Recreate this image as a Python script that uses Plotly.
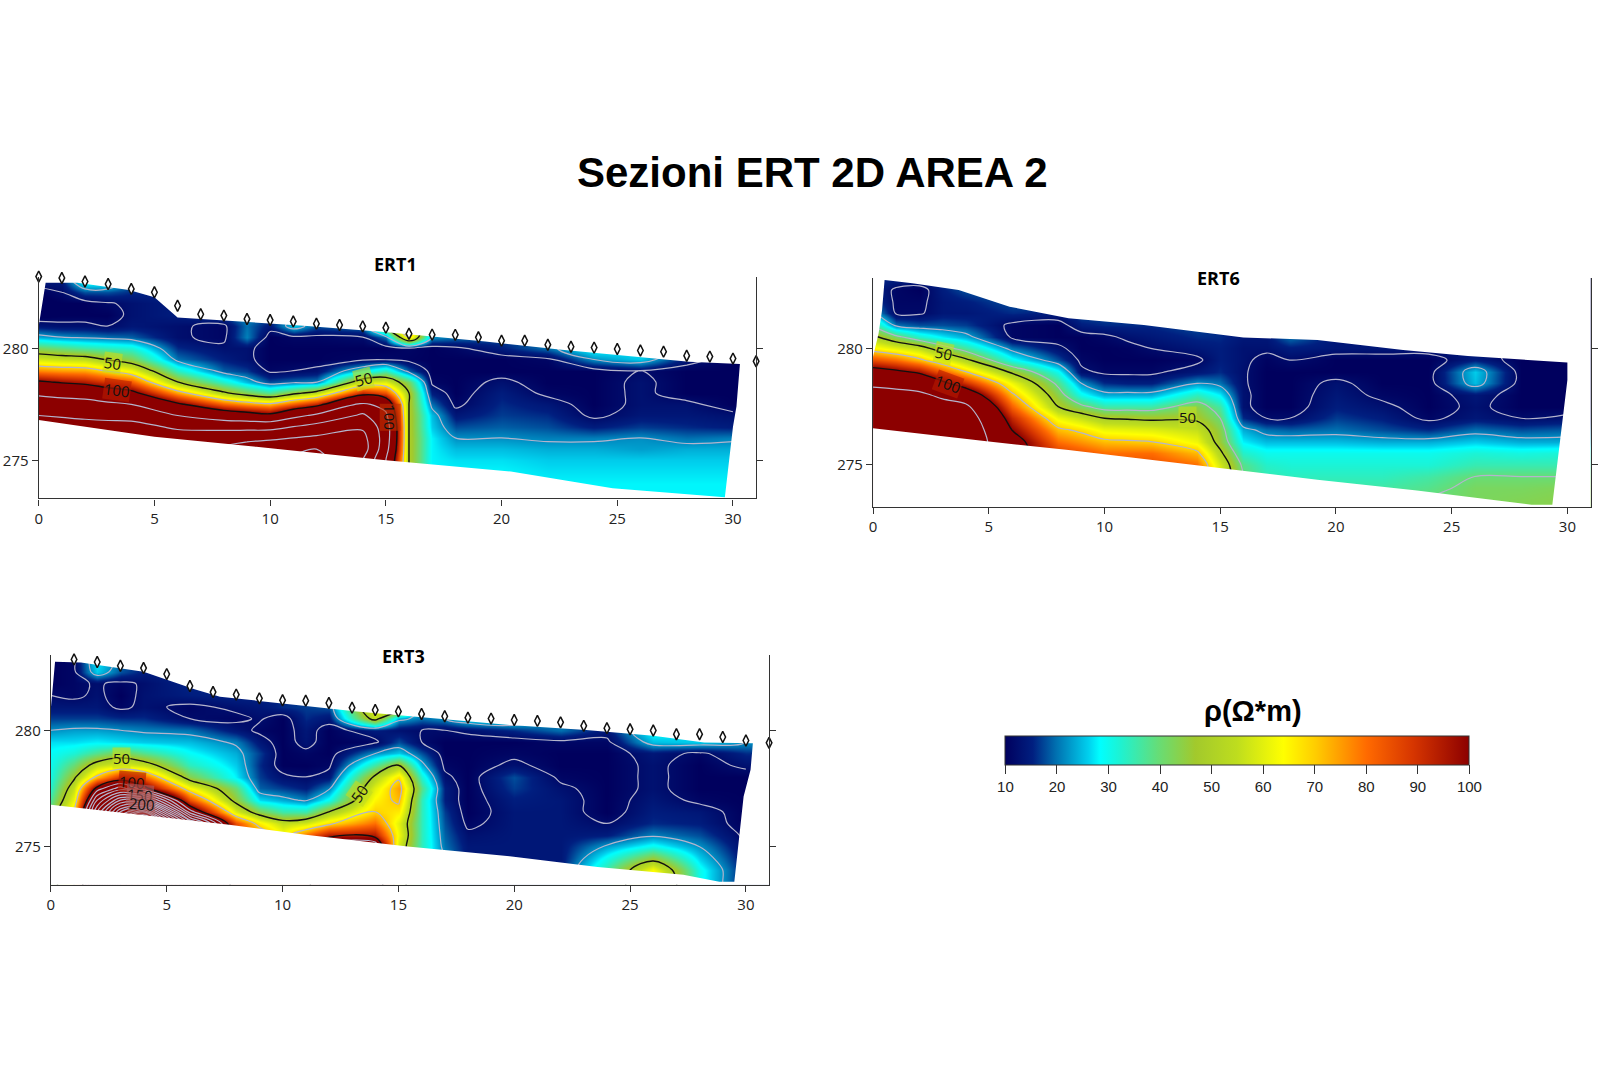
import numpy as np
import plotly.graph_objects as go

# ---------- data ----------
x_nodes = [0, 1, 2, 3, 4, 6, 8, 9, 10, 11, 12, 14, 15, 16, 17, 18, 20, 22, 24, 26, 28, 30]
y_nodes = [282.95, 282.5, 282, 281.5, 281, 280.5, 280, 279.5, 279, 278.5, 278, 277.5, 277,
           276.5, 276, 275.5, 275, 274.5, 274, 273.5, 273]

# one list per x node, resistivity from the top row down to y=273
ert1_cols = [
    [14, 10, 9, 9, 14, 24, 42, 58, 78, 102, 125, 145, 160, 170, 170, 165, 160, 160, 160, 160, 160],
    [14, 12, 10, 10, 13, 22, 39, 56, 76, 98, 121, 142, 158, 170, 172, 170, 165, 165, 165, 165, 165],
    [30, 18, 10, 10, 13, 21, 36, 55, 75, 95, 118, 140, 155, 170, 175, 175, 170, 170, 170, 170, 170],
    [30, 18, 11.5, 10, 12, 20, 34, 49, 69, 89, 110, 135, 152, 170, 178, 180, 178, 178, 178, 178, 178],
    [18, 16, 13, 13, 14, 19, 32, 43, 63, 83, 105, 130, 150, 170, 180, 185, 185, 185, 185, 185, 185],
    [16, 16, 15, 15, 12.5, 12.5, 16, 20, 34, 50, 75, 103, 130, 155, 175, 190, 195, 195, 195, 195, 195],
    [18, 18, 18, 18, 11, 11, 13, 15, 19, 33, 52, 82, 115, 150, 180, 195, 200, 200, 200, 200, 200],
    [22, 22, 22, 22, 20, 21, 13, 13, 17, 25, 44, 76, 110, 150, 182, 205, 210, 210, 210, 210, 210],
    [20, 20, 20, 18, 14, 10, 10, 10, 11, 18, 38, 72, 105, 150, 185, 210, 220, 220, 220, 220, 220],
    [20, 20, 20, 20, 26, 11, 10, 10, 12, 20, 47, 83, 122, 160, 190, 215, 225, 225, 225, 225, 225],
    [20, 20, 20, 20, 18, 11, 10, 10, 13, 21, 55, 93, 135, 170, 195, 220, 230, 230, 230, 230, 230],
    [20, 20, 20, 20, 20, 12, 10, 11, 28, 58, 93, 135, 165, 185, 200, 205, 190, 190, 190, 190, 190],
    [50, 50, 50, 50, 50, 20, 10, 11.5, 35, 60, 85, 120, 135, 145, 145, 140, 130, 130, 130, 130, 130],
    [90, 90, 90, 90, 90, 70, 11, 10.5, 19, 42, 50, 50, 50, 50, 50, 50, 50, 50, 50, 50, 50],
    [15, 15, 15, 15, 15, 22, 10, 10, 10, 11, 15, 20, 25, 26, 28, 28, 28, 28, 28, 28, 28],
    [18, 18, 18, 18, 18, 20, 11, 10, 10, 10, 10, 11, 14, 18, 22, 25, 27, 28, 28, 28, 28],
    [18, 18, 18, 18, 18, 18, 15, 10, 10, 13, 15, 16, 17, 19, 22, 25, 27, 28, 28, 28, 28],
    [20, 20, 20, 20, 20, 20, 20, 11, 10, 10, 11, 14, 16, 18, 21, 24, 26, 27, 28, 28, 28],
    [30, 30, 30, 30, 30, 30, 30, 22, 10, 10, 10, 10, 11, 15, 21, 24, 26, 27, 28, 28, 28],
    [28, 28, 28, 28, 28, 28, 28, 26, 12, 13, 13, 13, 14, 17, 22, 23, 26, 27, 28, 28, 28],
    [20, 20, 20, 20, 20, 20, 20, 14, 10, 10, 10, 13, 14, 16, 20, 24, 26, 27, 28, 28, 28],
    [18, 18, 18, 18, 18, 18, 18, 10, 10, 10, 10, 10, 13, 15, 21, 24, 26, 27, 28, 28, 28],
]
ert6_cols = [
    [16, 16, 18, 24, 38, 52, 65, 85, 108, 125, 140, 150, 155, 155, 155, 155, 155, 155, 155, 155, 155],
    [15, 11, 11, 11.5, 20, 42, 60, 80, 103, 122, 138, 148, 153, 153, 153, 153, 153, 153, 153, 153, 153],
    [15, 10, 11, 11.5, 18, 33, 55, 72, 97, 118, 135, 145, 150, 150, 150, 150, 150, 150, 150, 150, 150],
    [18, 15, 14, 14, 18, 28, 44, 62, 83, 104, 125, 140, 148, 150, 150, 150, 150, 150, 150, 150, 150],
    [20, 18, 15, 14, 17, 24, 36, 52, 70, 90, 115, 135, 145, 150, 150, 150, 150, 150, 150, 150, 150],
    [20, 20, 18, 16, 11, 11, 20, 30, 48, 62, 72, 82, 92, 100, 108, 108, 108, 108, 108, 108, 108],
    [20, 20, 20, 15, 10, 10, 13, 18, 30, 38, 44, 50, 62, 72, 80, 88, 90, 90, 90, 90, 90],
    [20, 20, 20, 18, 15, 10, 10, 11, 13, 22, 30, 42, 56, 68, 76, 84, 88, 88, 88, 88, 88],
    [18, 18, 18, 18, 16, 11, 10, 10, 11, 16, 24, 36, 50, 62, 72, 80, 85, 85, 85, 85, 85],
    [18, 18, 18, 18, 16, 13, 10.5, 10, 11, 15, 24, 36, 49, 61, 71, 80, 85, 85, 85, 85, 85],
    [16, 16, 16, 16, 16, 14, 12, 10, 11, 15, 24, 36, 48, 60, 70, 80, 85, 85, 85, 85, 85],
    [18, 18, 18, 18, 18, 16, 14, 11, 14, 22, 34, 44, 48, 56, 62, 72, 80, 80, 80, 80, 80],
    [16, 16, 16, 16, 16, 16, 15, 15, 16, 20, 28, 36, 40, 44, 46, 52, 58, 60, 60, 60, 60],
    [14, 14, 14, 14, 14, 14, 13, 13, 12.5, 12.5, 13, 13, 16, 24, 28, 33, 38, 40, 40, 40, 40],
    [14, 14, 14, 14, 14, 14, 13, 10.5, 10, 10, 10, 10, 12, 20, 25, 30, 33, 35, 36, 36, 36],
    [20, 20, 20, 20, 20, 20, 15, 12, 10, 10, 10, 10, 12, 19, 25, 30, 32, 34, 36, 36, 36],
    [14, 14, 14, 14, 14, 14, 14, 10, 10, 13, 14, 15, 17, 20, 25, 30, 32, 34, 36, 36, 36],
    [14, 14, 14, 14, 14, 14, 14, 10, 10, 10, 11, 13, 15, 18, 24, 30, 32, 34, 36, 38, 38],
    [14, 14, 14, 14, 14, 14, 14, 10, 10, 10, 10, 10, 11, 16, 24, 30, 32, 36, 38, 40, 40],
    [14, 14, 14, 14, 14, 14, 14, 15, 26, 25, 14, 13, 14, 20, 26, 32, 35, 40, 42, 42, 42],
    [10, 10, 10, 10, 10, 10, 10, 10, 10, 10, 10, 10, 12, 18, 24, 31, 35, 40, 42, 43, 43],
    [10, 10, 10, 10, 10, 10, 10, 10, 10, 10, 10, 10, 13, 19, 24, 32, 35, 40, 43, 44, 44],
]
ert3_cols = [
    [10, 10, 10, 12, 14, 17, 22, 27, 29, 30, 31, 33, 37, 42, 42, 42, 42, 42, 42, 42, 42],
    [11, 11, 11, 11, 14, 17, 23, 27, 32, 40, 48, 56, 62, 70, 70, 70, 70, 70, 70, 70, 70],
    [28, 26, 12.5, 13, 14, 17, 23, 28, 38, 55, 72, 105, 130, 150, 150, 150, 150, 150, 150, 150, 150],
    [20, 18, 11, 10, 11, 16, 22, 27, 44, 60, 90, 125, 170, 210, 240, 240, 240, 240, 240, 240, 240],
    [16, 15, 12.5, 13, 13, 16, 21, 26, 38, 56, 82, 105, 165, 240, 280, 280, 280, 280, 280, 280, 280],
    [16, 16, 16, 15, 11, 12, 20, 25, 29, 34, 44, 64, 85, 115, 165, 165, 165, 165, 165, 165, 165],
    [16, 16, 16, 16, 13, 11, 14, 21, 24, 26, 28, 40, 46, 60, 85, 90, 90, 90, 90, 90, 90],
    [16, 16, 16, 16, 14, 12.5, 11, 14, 17, 16, 17, 19, 27, 44, 66, 78, 80, 80, 80, 80, 80],
    [16, 16, 16, 16, 16, 10, 10, 10, 10, 10, 13, 17, 24, 36, 55, 65, 70, 70, 70, 70, 70],
    [17, 17, 17, 17, 17, 16, 14, 13.5, 11, 10, 12, 15, 21, 36, 58, 80, 95, 95, 95, 95, 95],
    [18, 18, 18, 18, 18, 14, 10, 10, 10, 11, 14, 21, 30, 50, 68, 95, 120, 120, 120, 120, 120],
    [65, 65, 65, 65, 65, 55, 15, 11, 22, 36, 52, 60, 65, 70, 80, 95, 120, 120, 120, 120, 120],
    [65, 65, 65, 65, 65, 24, 13, 18, 26, 50, 68, 75, 72, 66, 60, 62, 58, 58, 58, 58, 58],
    [20, 20, 20, 20, 20, 20, 12, 12, 18, 24, 32, 38, 34, 34, 34, 34, 34, 34, 34, 34, 34],
    [22, 22, 22, 22, 22, 22, 12, 10, 10, 11, 13, 15, 15, 17, 18, 19, 20, 22, 22, 22, 22],
    [28, 28, 28, 28, 28, 28, 13, 10, 10, 10, 10, 10, 10, 10, 11, 13, 14, 14, 14, 14, 14],
    [30, 30, 30, 30, 30, 30, 16, 10, 11, 13, 18, 17, 15, 14, 14, 14, 14, 14, 14, 14, 14],
    [20, 20, 20, 20, 20, 20, 20, 11, 10, 10, 11, 13, 14, 14, 14, 14, 14, 14, 15, 15, 15],
    [14, 14, 14, 14, 14, 14, 14, 11, 10, 10, 10, 10, 10, 10, 12, 15, 23, 30, 36, 36, 36],
    [30, 30, 30, 30, 30, 30, 30, 25, 14, 13, 13, 13, 14, 15, 16, 21, 30, 46, 64, 70, 70],
    [28, 28, 28, 28, 28, 28, 28, 26, 11, 10, 10, 10, 11, 14, 15, 18, 22, 26, 30, 30, 30],
    [22, 22, 22, 22, 22, 22, 22, 22, 16, 13, 10, 10, 10, 10, 10, 11, 12, 13, 14, 14, 14],
]

# section outlines: top edge, right edge, bottom edge
ert1_top_x = [0.0, 0.3, 1.67, 3.9, 5.0, 6.0, 6.85, 8.3, 9.8, 11.6, 14.8, 17.1, 19.3, 22.6, 24.8, 28.1, 30.3]
ert1_top_y = [281.0, 282.93, 282.93, 282.6, 282.28, 281.38, 281.34, 281.22, 281.12, 281.0, 280.74, 280.52, 280.3, 279.93, 279.7, 279.4, 279.3]
ert1_right_x = [30.15, 30.0, 29.9, 29.65]
ert1_right_y = [277.4, 276.5, 275.6, 273.35]
ert1_bot_x = [24.8, 20.4, 15.0, 9.4, 5.0, 0.0]
ert1_bot_y = [273.75, 274.5, 275.0, 275.6, 276.05, 276.8]

ert6_top_x = [0.0, 0.24, 0.39, 0.5, 1.7, 3.7, 5.9, 8.45, 11.7, 16.0, 19.2, 22.9, 25.7, 30.0]
ert6_top_y = [279.64, 280.64, 281.64, 282.93, 282.79, 282.5, 281.79, 281.29, 281.0, 280.47, 280.36, 279.93, 279.67, 279.39]
ert6_right_x = [30.0, 29.74, 29.5, 29.35]
ert6_right_y = [278.64, 276.36, 274.5, 273.29]
ert6_bot_x = [28.45, 23.5, 19.2, 14.9, 8.45, 5.0, 0.0]
ert6_bot_y = [273.29, 273.9, 274.36, 274.86, 275.64, 276.0, 276.57]

ert3_top_x = [0.0, 0.18, 0.22, 1.3, 4.0, 5.0, 6.2, 7.3, 11.0, 13.2, 17.0, 19.8, 23.1, 26.0, 28.2, 30.3]
ert3_top_y = [280.94, 282.94, 282.94, 282.91, 282.51, 282.16, 281.76, 281.44, 281.04, 280.8, 280.47, 280.23, 280.01, 279.76, 279.47, 279.44]
ert3_right_x = [30.2, 29.9, 29.7, 29.5]
ert3_right_y = [278.3, 277.16, 275.44, 273.5]
ert3_bot_x = [28.85, 27.3, 23.6, 19.8, 15.4, 11.0, 7.7, 2.64, 0.0]
ert3_bot_y = [273.5, 273.8, 274.13, 274.59, 275.01, 275.51, 275.94, 276.51, 276.8]

electrode_x = list(range(32))
ert1_electrodes = [283.2, 283.14, 282.98, 282.87, 282.65, 282.5, 281.9, 281.52, 281.46, 281.31, 281.26, 281.2,
                   281.1, 281.04, 280.98, 280.92, 280.65, 280.61, 280.6, 280.49, 280.34, 280.34, 280.16, 280.07,
                   280.03, 279.97, 279.9, 279.85, 279.67, 279.63, 279.54, 279.42]
ert3_electrodes = [283.24, 283.04, 282.93, 282.77, 282.67, 282.41, 281.9, 281.64, 281.53, 281.37, 281.29, 281.27,
                   281.17, 280.97, 280.87, 280.81, 280.7, 280.6, 280.54, 280.5, 280.44, 280.4, 280.34, 280.19,
                   280.09, 280.04, 279.99, 279.83, 279.83, 279.71, 279.56, 279.46]

gray_levels_1 = [12, 22, 70, 130, 160, 190, 220]
gray_levels_6 = [12, 22, 40, 70, 130]
gray_levels_3 = [12, 22, 70, 110, 120, 130, 140, 150, 160, 170, 180, 190, 200, 210, 220, 230, 240, 250, 260, 270]
x_ticks = [0, 5, 10, 15, 20, 25, 30]
y_ticks = [275, 280]
bar_ticks = [10, 20, 30, 40, 50, 60, 70, 80, 90, 100]
section_names = ["ERT1", "ERT6", "ERT3"]

# contour labels: section, x, elevation, text, angle, local background
label_section = [0, 0, 0, 0, 1, 1, 1, 2, 2, 2, 2, 2]
label_x = [3.17, 3.37, 14.05, 15.2, 3.03, 3.25, 13.57, 3.04, 3.48, 3.85, 3.92, 13.3]
label_y = [279.36, 278.14, 278.63, 276.9, 279.79, 278.46, 277.07, 278.81, 277.8, 277.23, 276.84, 277.26]
label_text = ["50", "100", "50", "100", "50", "100", "50", "50", "100", "150", "200", "50"]
label_angle = [8, 8, -15, 90, 12, 20, 0, 0, 5, 5, 5, -55]
label_bg = ["rgba(196,221,30,0.6)", "rgba(184,26,0,0.6)", "rgba(196,221,30,0.6)", "rgba(192,48,0,0.6)",
            "rgba(196,221,30,0.6)", "rgba(184,26,0,0.6)", "rgba(196,221,30,0.6)", "rgba(196,221,30,0.6)",
            "rgba(176,24,0,0.6)", "rgba(176,96,96,0.6)", "rgba(176,96,96,0.6)", "rgba(196,221,30,0.6)"]

colors = [[0.0, "#00005e"], [0.06, "#001f80"], [0.11, "#0070b0"], [0.18, "#00d0ee"], [0.205, "#00ffff"],
          [0.25, "#1ff2d0"], [0.33, "#66dd77"], [0.41, "#a2c92c"], [0.5, "#bedd1e"], [0.6, "#ffff00"],
          [0.67, "#ffcc00"], [0.78, "#ff6a00"], [0.88, "#d63500"], [1.0, "#8c0000"]]

W, H = 1600, 1067
fig = go.Figure()


def axis_suffix(idx):
    return "" if idx == 0 else str(idx + 1)


def add_section(idx, cols, top_x, top_y, right_x, right_y, bot_x, bot_y, levels, electrodes,
                px_x0, px_x31, px_top, px_bot, y_lo, y_hi):
    suffix = axis_suffix(idx)
    xa, ya = "x" + suffix, "y" + suffix
    z = np.array(cols, dtype=float).T
    fig.add_trace(go.Heatmap(x=x_nodes, y=y_nodes, z=z, zsmooth="best", coloraxis="coloraxis",
                             xaxis=xa, yaxis=ya, hoverinfo="skip"))
    for lev in levels:
        fig.add_trace(go.Contour(x=x_nodes, y=y_nodes, z=z, autocontour=False, showscale=False,
                                 contours=dict(start=lev, end=lev, size=1, coloring="none"),
                                 line=dict(color="#b4b4cc", width=1.2, smoothing=1.0),
                                 xaxis=xa, yaxis=ya, hoverinfo="skip"))
    fig.add_trace(go.Contour(x=x_nodes, y=y_nodes, z=z, autocontour=False, showscale=False,
                             contours=dict(start=50, end=100, size=50, coloring="none"),
                             line=dict(color="#101010", width=1.4, smoothing=1.0),
                             xaxis=xa, yaxis=ya, hoverinfo="skip"))
    # white mask outside the section outline (outer ring runs past the axis range)
    mx = [-1, 32, 32, -1] + list(bot_x)[::-1] + list(right_x)[::-1] + list(top_x)[::-1] + [-1]
    my = [y_hi + 1, y_hi + 1, y_lo - 1, y_lo - 1] + list(bot_y)[::-1] + list(right_y)[::-1] + list(top_y)[::-1] + [y_hi + 1]
    fig.add_trace(go.Scatter(x=mx, y=my, mode="lines", fill="toself", fillcolor="white",
                             line=dict(width=0, color="white"), xaxis=xa, yaxis=ya, hoverinfo="skip",
                             showlegend=False))
    if electrodes is not None:
        fig.add_trace(go.Scatter(x=electrode_x, y=electrodes, mode="markers", cliponaxis=False,
                                 marker=dict(symbol="diamond-tall", size=8, color="white",
                                             line=dict(color="#111", width=1.5)),
                                 xaxis=xa, yaxis=ya, hoverinfo="skip", showlegend=False))
    fig.layout["xaxis" + suffix] = dict(domain=[px_x0 / W, px_x31 / W], range=[0, 31], tickvals=x_ticks,
                                        ticks="outside", ticklen=6, tickcolor="#333", showline=True,
                                        linecolor="#333", linewidth=1.3, showgrid=False, zeroline=False,
                                        anchor=ya, tickfont=dict(family="Open Sans", size=15, color="#222"))
    fig.layout["yaxis" + suffix] = dict(domain=[1 - px_bot / H, 1 - px_top / H], range=[y_lo, y_hi],
                                        tickvals=y_ticks, ticks="outside", ticklen=6, tickcolor="#333",
                                        showline=True, linecolor="#333", linewidth=1.3, mirror="ticks",
                                        showgrid=False, zeroline=False, anchor=xa,
                                        tickfont=dict(family="Open Sans", size=15, color="#222"))


add_section(0, ert1_cols, ert1_top_x, ert1_top_y, ert1_right_x, ert1_right_y, ert1_bot_x, ert1_bot_y,
            gray_levels_1, ert1_electrodes, 34.8, 754, 276.6, 498.4, 273.3, 283.2)
add_section(1, ert6_cols, ert6_top_x, ert6_top_y, ert6_right_x, ert6_right_y, ert6_bot_x, ert6_bot_y,
            gray_levels_6, None, 871.2, 1590.5, 278, 507.3, 273.18, 283.02)
add_section(2, ert3_cols, ert3_top_x, ert3_top_y, ert3_right_x, ert3_right_y, ert3_bot_x, ert3_bot_y,
            gray_levels_3, ert3_electrodes, 47, 767, 655, 884.7, 273.37, 283.23)


def page_text(text, px, py, font, size):
    return dict(text=text, x=px / W, y=1 - py / H, xref="paper", yref="paper", showarrow=False,
                xanchor="center", yanchor="middle", font=dict(family=font, size=size, color="#000"))


annotations = [
    page_text("<b>Sezioni ERT 2D AREA 2</b>", 811, 172, "Liberation Sans", 42),
    page_text("<b>" + section_names[0] + "</b>", 392, 264, "Open Sans", 18),
    page_text("<b>" + section_names[1] + "</b>", 1218, 278, "Open Sans", 18),
    page_text("<b>" + section_names[2] + "</b>", 401, 656, "Open Sans", 18),
    page_text("<b>ρ(Ω*m)</b>", 1252, 711, "Liberation Sans", 29),
]
for s, lx, ly, t, a, bg in zip(label_section, label_x, label_y, label_text, label_angle, label_bg):
    suffix = axis_suffix(s)
    annotations.append(dict(text=t, x=lx, y=ly, xref="x" + suffix, yref="y" + suffix, showarrow=False,
                            textangle=a, bgcolor=bg, borderpad=0,
                            font=dict(family="Open Sans", size=15, color="#111")))

fig.update_layout(
    width=W, height=H, margin=dict(l=0, r=0, t=0, b=0), paper_bgcolor="white", plot_bgcolor="white",
    showlegend=False,
    coloraxis=dict(cmin=10, cmax=100, colorscale=colors,
                   colorbar=dict(orientation="h", x=1236.5 / W, xanchor="center", y=1 - 736 / H, yanchor="top",
                                 thickness=29, thicknessmode="pixels", len=464, lenmode="pixels",
                                 xpad=0, ypad=0, tickvals=bar_ticks, ticks="outside", ticklen=9,
                                 tickcolor="#333", outlinecolor="#333", outlinewidth=1,
                                 tickfont=dict(family="Liberation Sans", size=15, color="#222"))),
    annotations=annotations,
)
fig.write_html("out.html", post_script="document.body.style.margin='0';", config={"displayModeBar": False})
